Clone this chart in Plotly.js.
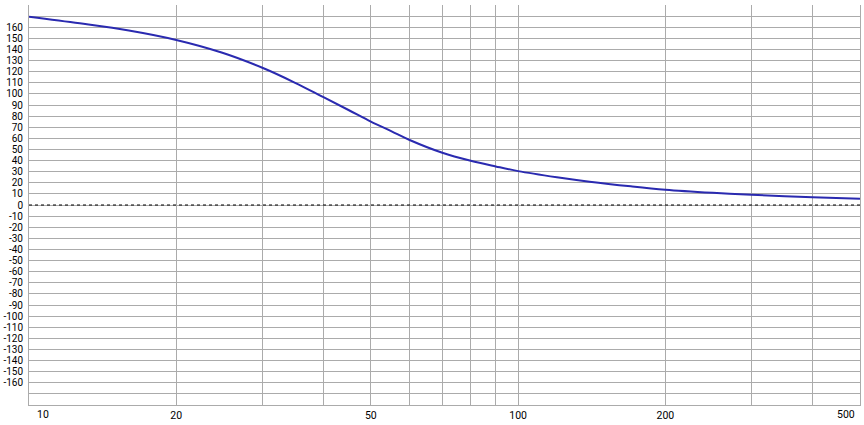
<!DOCTYPE html>
<html>
<head>
<meta charset="utf-8">
<script src="https://cdn.plot.ly/plotly-3.0.1.min.js"></script>
<style>html,body{margin:0;padding:0;background:#fff;}#chart{width:864px;height:425px;}</style>
</head>
<body>
<div id="chart"></div>
<script>
// Frequency (Hz) and phase (deg)
const freq  = [10, 12.7, 16, 20, 24.85, 30, 35, 40, 45, 50, 55, 60, 70, 80, 90, 100, 120, 140, 170, 200, 250, 300, 400, 500];
const phase = [169.5, 163.5, 157, 148.5, 137, 123.5, 110, 97, 85.5, 75, 66.5, 58.5, 47, 39.8, 34.7, 30.5, 25, 21, 16.8, 13.8, 11, 9.2, 7, 5.6];

// x gridline positions and their labels (end labels are drawn inside the plot edges)
const xTickVals = [10, 20, 30, 40, 50, 60, 70, 80, 90, 100, 200, 300, 400, 500];
const xTickText = ["", "20", "", "", "50", "", "", "", "", "100", "200", "", "", ""];
const xEndVals = [10, 500];
const xEndText = ["10", "500"];

const yTickVals = [];
const yTickText = [];
for (let v = -180; v <= 180; v += 10) {
  yTickVals.push(v);
  yTickText.push(Math.abs(v) > 160 ? "" : String(v));
}
const zeroRef = [0, 0];
const zeroX = [10, 500];

const gridCol = "#ababab";

const traces = [
  {x: zeroX, y: zeroRef, mode: "lines", line: {color: "#000", width: 1, dash: "3px,3px"}, hoverinfo: "skip"},
  {x: freq, y: phase, mode: "lines", line: {color: "#2a2ab0", width: 2, shape: "spline", smoothing: 1}}
];

const annotations = xEndVals.map((v, i) => ({
  x: Math.log10(v), xref: "x", y: 0, yref: "paper",
  text: xEndText[i], showarrow: false,
  xanchor: i === 0 ? "left" : "right", yanchor: "top",
  xshift: i === 0 ? 6 : -3, yshift: -1,
  font: {size: 10.5, color: "#000"}
}));

const layout = {
  width: 864, height: 425,
  margin: {l: 29, r: 4, t: 5, b: 20, pad: 0},
  paper_bgcolor: "#fff", plot_bgcolor: "#fff",
  showlegend: false,
  font: {family: "Roboto, 'Noto Sans', sans-serif", size: 10, color: "#000"},
  annotations: annotations,
  xaxis: {
    type: "log", range: [1, Math.log10(500)],
    tickmode: "array", tickvals: xTickVals, ticktext: xTickText,
    showgrid: true, gridcolor: gridCol, gridwidth: 1,
    showline: true, linecolor: gridCol, linewidth: 1, mirror: false,
    ticks: "", zeroline: false, ticklabelstandoff: 0,
    tickfont: {size: 10.5}
  },
  yaxis: {
    range: [-180, 180],
    tickmode: "array", tickvals: yTickVals, ticktext: yTickText,
    showgrid: true, gridcolor: gridCol, gridwidth: 1,
    showline: true, linecolor: gridCol, linewidth: 1, mirror: true,
    ticks: "", zeroline: false, ticklabelstandoff: 3,
    tickfont: {size: 10}
  }
};

Plotly.newPlot("chart", traces, layout, {staticPlot: true, displayModeBar: false});
</script>
</body>
</html>
